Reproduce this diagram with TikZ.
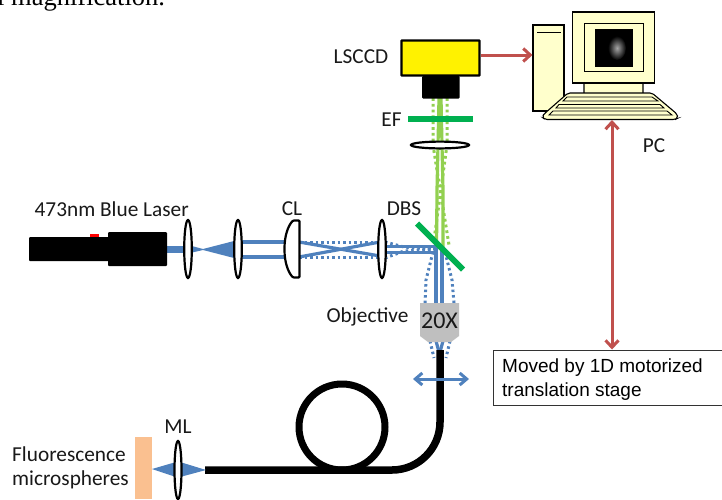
\documentclass[tikz,border=0pt]{standalone}
\usepackage{fontspec}
\setmainfont{Carlito}
\newfontfamily\arialf{Liberation Sans}
\newfontfamily\timesf{Liberation Serif}
\usetikzlibrary{arrows.meta}
\definecolor{bluebeam}{HTML}{4F81BD}
\definecolor{greenbeam}{HTML}{92D050}
\definecolor{filtergreen}{HTML}{00B050}
\definecolor{redarrow}{HTML}{C0504D}
\definecolor{pccream}{HTML}{FFFFCC}
\definecolor{peach}{HTML}{FAC090}
\definecolor{objgray}{HTML}{BFBFBF}
\tikzset{
  lbl/.style={inner sep=0pt,font=\fontsize{21.3}{24}\selectfont,text=black!90},
  lensshape/.style={draw=black,line width=2.2pt,fill=white},
  bluesolid/.style={draw=bluebeam,line width=3.2pt},
  bluedot/.style={draw=bluebeam,line width=3pt,dash pattern=on 2.5pt off 3pt},
  greensolid/.style={draw=greenbeam,line width=3.2pt},
  greendot/.style={draw=greenbeam,line width=3pt,dash pattern=on 2.8pt off 3pt},
  fibre/.style={draw=black,line width=7.5pt},
  redlink/.style={draw=redarrow,line width=3pt},
  pcpart/.style={draw=black,line width=1.1pt,fill=pccream},
}
\begin{document}
\begin{tikzpicture}[x=1pt,y=-1pt]
\useasboundingbox (0,0) rectangle (722,499);
\clip (0,0) rectangle (722,499);
\fill[white] (0,0) rectangle (722,499);
% clipped caption line
\node[anchor=base west,inner sep=0pt,font=\timesf\fontsize{26.5}{29}\selectfont] (caption) at (-3,5) {l magnification.};

% green beams
\draw[greensolid] (439,98) -- (438,145) -- (437,190) -- (436.5,250);
\draw[greensolid] (441,98) -- (442,145) -- (443,190) -- (443,250);
\draw[greendot] (433,98) -- (433,145) -- (449,245);
\draw[greendot] (447,98) -- (447,145) -- (434,240);

% blue beams
\fill[bluebeam] (167,245.5) rectangle (186,252.5);
\fill[bluebeam] (190,245.5) -- (203,249) -- (234,241) -- (234,258) -- (203,250) -- (190,253) -- cycle;
\draw[bluesolid] (238,242) -- (290,242);
\draw[bluesolid] (238,257) -- (290,257);
\draw[bluesolid] (299,242) -- (380,256);
\draw[bluesolid] (299,257) -- (380,242);
\draw[bluedot] (299,242) -- (380,242);
\draw[bluedot] (299,257) -- (380,257);
\draw[bluesolid] (384,246.5) -- (442,246.5);
\draw[bluesolid] (384,252.5) -- (436,252.5);
\draw[bluedot] (385,242) -- (404,247) -- (436,250);
\draw[bluedot] (385,258) -- (404,251) -- (436,249);
\draw[bluesolid] (436,246.5) -- (436,303);
\draw[bluesolid] (442,246.5) -- (442,303);
\draw[bluedot] (433,252) -- (426,280) -- (425,303);
\draw[bluedot] (445,252) -- (452,280) -- (454,303);
\draw[bluesolid] (436,341) -- (439,352);
\draw[bluesolid] (443,341) -- (440,352);
\draw[bluedot] (430,341) -- (434,358);
\draw[bluedot] (450,341) -- (446,358);

% laser
\fill[black,rounded corners=1pt] (29,237) rectangle (110,261);
\fill[black,rounded corners=1pt] (108,232) rectangle (167,266);
\fill[red] (90,234) rectangle (99,237);

% lenses
\draw[lensshape] (188,249) ellipse (3.8 and 29);
\draw[lensshape] (238,249) ellipse (3.8 and 29);
\draw[lensshape] (382,249) ellipse (3.8 and 29);
\draw[lensshape,rounded corners=1pt] (299.5,220.5) -- (299.5,277.5) -- (293,277.5)
  .. controls (288,272) and (284.5,262) .. (284.5,249)
  .. controls (284.5,236) and (288,226) .. (293,220.5) -- cycle;
\draw[lensshape] (440,145) ellipse (29 and 3.4);

% dichroic and emission filter
\draw[draw=filtergreen,line width=6pt] (417,223.5) -- (463,269.5);
\fill[filtergreen] (408,116) rectangle (473,122);

% LSCCD
\node[draw=black,line width=2.2pt,fill=yellow,minimum width=78pt,minimum height=35pt,inner sep=0pt,rounded corners=0.5pt] (ccd) at (440.5,58) {};
\fill[black,rounded corners=1pt] (422,76) rectangle (459.5,98.5);

% objective
\fill[objgray] (420,303) -- (459,303) -- (459,336) -- (451,342) -- (428,342) -- (420,336) -- cycle;

% fibre
\draw[fibre] (205,470) -- (392,470) arc[start angle=90,end angle=0,radius=48] -- (440,350);
\draw[fibre,line width=7pt] (342,427) circle (43);
\draw[bluebeam,line width=3pt,{Straight Barb[length=7pt,width=12pt]}-{Straight Barb[length=7pt,width=12pt]}] (413,379) -- (469,379);

% sample
\fill[peach] (135,437) rectangle (152,499);
\fill[bluebeam] (152,469) -- (176,462) -- (176,477) -- cycle;
\fill[bluebeam] (180,462) -- (206,470) -- (180,477) -- cycle;
\draw[lensshape] (178,470) ellipse (3.5 and 29);

% PC
\node[pcpart,minimum width=31pt,minimum height=86pt,inner sep=0pt] (tower) at (548.5,68) {};
\draw[line width=1.8pt] (537,32.5) -- (561,32.5);
\draw[pcpart,rounded corners=0.5pt] (584,80) rectangle (643,94);
\node[pcpart,minimum width=82pt,minimum height=71pt,inner sep=0pt] (monitor) at (613.5,47.5) {};
\draw[line width=0.9pt,fill=pccream] (584.5,23.5) rectangle (643,71);
\fill[black] (595,29) rectangle (633,67);
\begin{scope}
\clip (595,29) rectangle (633,67);
\shade[inner color=black!35,outer color=black] (617,48) ellipse (9 and 12);
\end{scope}
\draw[pcpart,rounded corners=2pt] (568,93) -- (652,93) -- (677,114) -- (678,118) -- (675,119.5) -- (545,119.5) -- (542,117) -- (544,114) -- cycle;
\draw[line width=0.9pt] (567,97) -- (652,97) -- (658,101) -- (563,101) -- cycle;
\draw[line width=0.9pt] (559,104.5) -- (660,104.5) -- (664,108) -- (556,108) -- cycle;
\draw[line width=0.9pt] (553,111) -- (667,111) -- (672,115) -- (549,115) -- cycle;
\coordinate (kbd) at (612,120);

% stage box
\node[draw=black!80,line width=1.1pt,fill=white,anchor=north west,minimum width=240pt,minimum height=55pt,inner sep=0pt] (stage) at (493,350) {};
\node[anchor=base west,inner sep=0pt,font=\arialf\fontsize{19}{21}\selectfont] (stage1) at (502,372) {Moved by 1D motorized};
\node[anchor=base west,inner sep=0pt,font=\arialf\fontsize{19}{21}\selectfont] (stage2) at (502,396) {translation stage};

% red links
\draw[redlink,-{Straight Barb[length=7pt,width=13pt]}] (ccd.east) ++(0,-3) -- (tower.west |- 0,55);
\coordinate (stagetop) at (612,349.5);
\draw[redlink,{Straight Barb[length=7pt,width=13pt]}-{Straight Barb[length=7pt,width=13pt]}] (kbd) -- (stagetop);

% labels
\node[lbl] (lccd) at (361,57) {LSCCD};
\node[lbl] (lef) at (391.5,120) {EF};
\node[lbl,anchor=base west] (llaser) at (34.5,216) {473nm Blue Laser};
\node[lbl] (lcl) at (292,209) {CL};
\node[lbl] (ldbs) at (404,209) {DBS};
\node[lbl] (lobj) at (367.5,317) {Objective};
\node[lbl,font=\fontsize{24}{27}\selectfont] (l20) at (439.5,321) {20X};
\node[lbl] (lpc) at (654,146) {PC};
\node[lbl] (lml) at (178,427) {ML};
\node[lbl,anchor=base west] (lfl) at (12,461) {Fluorescence};
\node[lbl,anchor=base west] (lms) at (12,485) {microspheres};
\end{tikzpicture}
\end{document}
